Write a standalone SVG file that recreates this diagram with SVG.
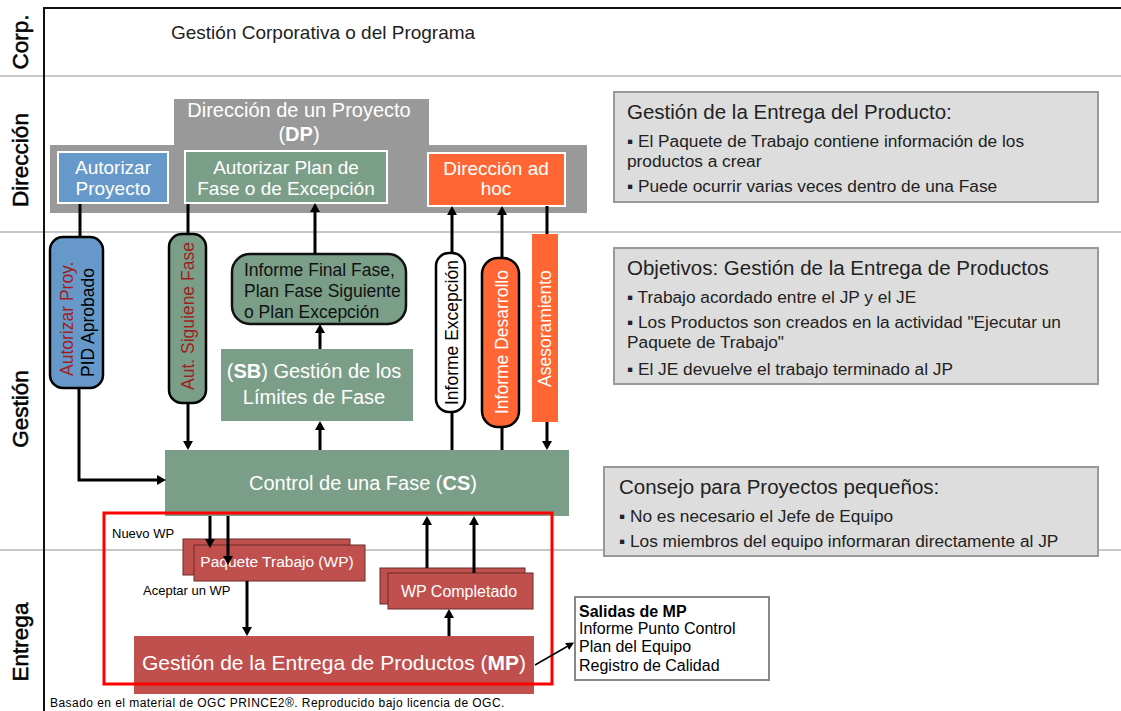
<svg xmlns="http://www.w3.org/2000/svg" width="1121" height="711" viewBox="0 0 1121 711">
<style>
text{font-family:"Liberation Sans",Arial,"DejaVu Sans",sans-serif;}
.lane{font-size:22.5px;fill:#000;stroke:#000;stroke-width:0.5;text-anchor:middle;}
.div{stroke:#b4b4b4;stroke-width:1.5;fill:none;}
.dirbox{stroke:#fff;stroke-width:2;}
.wt{fill:#fff;text-anchor:middle;}
.green{fill:#7b9e89;}
.blue{fill:#6699c9;}
.orange{fill:#ff6633;}
.red{fill:#c0504d;}
.pill{stroke:#000;stroke-width:2.5;}
.vt{font-size:17.5px;}
.conn{stroke:#000;stroke-width:3;fill:none;}
.panel{fill:#dddddd;stroke:#999;stroke-width:2;}
.ptitle{font-size:20.5px;fill:#222;}
.pbody{font-size:17.3px;fill:#222;}
</style>
<defs>
<marker id="ah" viewBox="0 0 9 10" refX="1" refY="5" markerWidth="9" markerHeight="10" markerUnits="userSpaceOnUse" orient="auto">
<path d="M0,0 L9,5 L0,10 z" fill="#000"/>
</marker>
<marker id="ahs" viewBox="0 0 8 8" refX="1" refY="4" markerWidth="8" markerHeight="8" markerUnits="userSpaceOnUse" orient="auto">
<path d="M0,0 L8,4 L0,8 z" fill="#000"/>
</marker>
</defs>
<rect width="1121" height="711" fill="#fff"/>

<g id="lanes">
<line class="div" x1="0" y1="76" x2="1121" y2="76"/>
<line class="div" x1="0" y1="232" x2="1121" y2="232"/>
<line class="div" x1="0" y1="550" x2="1121" y2="550"/>
<path d="M1121,8 H44 V711" stroke="#111" stroke-width="2" fill="none"/>
<text class="lane" transform="translate(28,42) rotate(-90)">Corp.</text>
<text class="lane" transform="translate(28,160) rotate(-90)">Dirección</text>
<text class="lane" transform="translate(28,409) rotate(-90)">Gestión</text>
<text class="lane" transform="translate(28,642) rotate(-90)">Entrega</text>
<text x="171" y="39" font-size="19" fill="#222">Gestión Corporativa o del Programa</text>
</g>

<g id="dp">
<path d="M50,145 H174 V99 H429 V145 H587 V213 H50 Z" fill="#999"/>
<text class="wt" x="299" y="117" font-size="20">Dirección de un Proyecto</text>
<text class="wt" x="299" y="141" font-size="20">(<tspan font-weight="bold">DP</tspan>)</text>
</g>

<g id="autorizar-proyecto">
<rect class="blue dirbox" x="58" y="152" width="110" height="51"/>
<text class="wt" x="113" y="174" font-size="19">Autorizar</text>
<text class="wt" x="113" y="195" font-size="19">Proyecto</text>
</g>

<g id="autorizar-plan">
<rect class="green dirbox" x="185" y="151" width="202" height="52"/>
<text class="wt" x="286" y="174" font-size="19">Autorizar Plan de</text>
<text class="wt" x="286" y="195" font-size="19">Fase o de Excepción</text>
</g>

<g id="direccion-adhoc">
<rect class="orange dirbox" x="428" y="153" width="137" height="53"/>
<text class="wt" x="496" y="175" font-size="19">Dirección ad</text>
<text class="wt" x="496" y="195" font-size="19">hoc</text>
</g>

<g id="pill-autorizar-proy">
<rect class="blue pill" x="50" y="237" width="53" height="151" rx="13"/>
<text class="vt" transform="translate(73,376) rotate(-90)" fill="#a01e1e">Autorizar Proy.</text>
<text class="vt" transform="translate(94,377) rotate(-90)" fill="#000" font-size="16.5">PID Aprobado</text>
</g>

<g id="pill-aut-siguiente">
<rect class="green pill" x="169" y="234" width="37" height="169" rx="13"/>
<text class="vt" transform="translate(194,390) rotate(-90)" fill="#a01e1e">Aut. Siguiene Fase</text>
</g>

<g id="informe-final">
<rect class="green" x="232" y="254" width="174" height="70" rx="18" stroke="#111" stroke-width="2.5"/>
<text x="244" y="276" font-size="17.5" fill="#111">Informe Final Fase,</text>
<text x="244" y="297" font-size="17.5" fill="#111">Plan Fase Siguiente</text>
<text x="244" y="318" font-size="17.5" fill="#111">o Plan Excepción</text>
</g>

<g id="sb">
<rect class="green" x="221" y="349" width="192" height="72"/>
<text class="wt" x="314" y="378" font-size="20">(<tspan font-weight="bold">SB</tspan>) Gestión de los</text>
<text class="wt" x="314" y="404" font-size="20">Límites de Fase</text>
</g>

<g id="pill-informe-excepcion">
<rect class="pill" fill="#fff" x="436" y="253" width="29" height="159" rx="13"/>
<text class="vt" transform="translate(458,405) rotate(-90)" fill="#000">Informe Excepción</text>
</g>

<g id="pill-informe-desarrollo">
<rect class="orange pill" x="482" y="258" width="37" height="169" rx="16"/>
<text class="vt" transform="translate(508,414) rotate(-90)" fill="#fff">Informe Desarrollo</text>
</g>

<g id="asesoramiento">
<rect class="orange" x="532" y="234" width="26" height="188"/>
<text class="vt" transform="translate(551,387) rotate(-90)" fill="#fff">Asesoramiento</text>
</g>

<g id="cs">
<rect class="green" x="165" y="450" width="404" height="66"/>
<text class="wt" x="363" y="490" font-size="20">Control de una Fase (<tspan font-weight="bold">CS</tspan>)</text>
</g>

<g id="paquete-trabajo">
<rect class="red" x="183" y="539" width="167" height="36" stroke="#6a2a28" stroke-width="1"/>
<rect class="red" x="194" y="545" width="171" height="36" stroke="#6a2a28" stroke-width="1"/>
<text class="wt" x="277" y="567" font-size="15.5">Paquete Trabajo (WP)</text>
</g>

<g id="wp-completado">
<rect class="red" x="380" y="568" width="145" height="36" stroke="#6a2a28" stroke-width="1"/>
<rect class="red" x="388" y="573" width="145" height="36" stroke="#6a2a28" stroke-width="1"/>
<text class="wt" x="459" y="597" font-size="16">WP Completado</text>
</g>

<g id="mp">
<rect class="red" x="134" y="636" width="400" height="58"/>
<text class="wt" x="334" y="670" font-size="21">Gestión de la Entrega de Productos (<tspan font-weight="bold">MP</tspan>)</text>
</g>

<g id="salidas-mp">
<rect x="575" y="597" width="194" height="83" fill="#fff" stroke="#888" stroke-width="2"/>
<text x="579" y="617" font-size="16" font-weight="bold" fill="#000">Salidas de MP</text>
<text x="579" y="634" font-size="16" fill="#000">Informe Punto Control</text>
<text x="579" y="652" font-size="16" fill="#000">Plan del Equipo</text>
<text x="579" y="671" font-size="16" fill="#000">Registro de Calidad</text>
</g>

<g id="panel-gestion-entrega">
<rect class="panel" x="614" y="92" width="484" height="110"/>
<text class="ptitle" x="627" y="119">Gestión de la Entrega del Producto:</text>
<text class="pbody" x="627" y="147">▪ El Paquete de Trabajo contiene información de los</text>
<text class="pbody" x="627" y="167">productos a crear</text>
<text class="pbody" x="627" y="192">▪ Puede ocurrir varias veces dentro de una Fase</text>
</g>

<g id="panel-objetivos">
<rect class="panel" x="614" y="248" width="484" height="136"/>
<text class="ptitle" x="627" y="275">Objetivos: Gestión de la Entrega de Productos</text>
<text class="pbody" x="627" y="303">▪ Trabajo acordado entre el JP y el JE</text>
<text class="pbody" x="627" y="328">▪ Los Productos son creados en la actividad "Ejecutar un</text>
<text class="pbody" x="627" y="348">Paquete de Trabajo"</text>
<text class="pbody" x="627" y="375">▪ El JE devuelve el trabajo terminado al JP</text>
</g>

<g id="panel-consejo">
<rect class="panel" x="604" y="467" width="494" height="89"/>
<text class="ptitle" x="619" y="494">Consejo para Proyectos pequeños:</text>
<text class="pbody" x="619" y="522">▪ No es necesario el Jefe de Equipo</text>
<text class="pbody" x="619" y="547">▪ Los miembros del equipo informaran directamente al JP</text>
</g>

<g id="entrega-frame">
<rect x="104" y="513" width="448" height="171" fill="none" stroke="#ff0000" stroke-width="3"/>
<text x="112" y="538" font-size="13" fill="#000">Nuevo WP</text>
<text x="143" y="595" font-size="13" fill="#000">Aceptar un WP</text>
</g>

<g id="connectors">
<path class="conn" d="M80,204 V237"/>
<path class="conn" d="M79,388 V480 H158" marker-end="url(#ah)"/>
<path class="conn" d="M188,204 V234"/>
<path class="conn" d="M188,403 V442" marker-end="url(#ah)"/>
<path class="conn" d="M315,254 V211" marker-end="url(#ah)"/>
<path class="conn" d="M320,349 V332" marker-end="url(#ah)"/>
<path class="conn" d="M320,450 V429" marker-end="url(#ah)"/>
<path class="conn" d="M452,253 V214" marker-end="url(#ah)"/>
<path class="conn" d="M452,450 V412"/>
<path class="conn" d="M502,258 V214" marker-end="url(#ah)"/>
<path class="conn" d="M502,450 V427"/>
<path class="conn" d="M547,206 V234"/>
<path class="conn" d="M547,422 V442" marker-end="url(#ah)"/>
<path class="conn" d="M210,516 V540" marker-end="url(#ah)"/>
<path class="conn" d="M228,516 V557" marker-end="url(#ah)"/>
<path class="conn" d="M247,581 V628" marker-end="url(#ah)"/>
<path class="conn" d="M449,636 V617" marker-end="url(#ah)"/>
<path class="conn" d="M427,568 V524" marker-end="url(#ah)"/>
<path class="conn" d="M474,573 V524" marker-end="url(#ah)"/>
<path d="M535,665 L568,646" stroke="#000" stroke-width="1.5" fill="none" marker-end="url(#ahs)"/>
</g>

<text x="50" y="707" font-size="12" letter-spacing="0.45" fill="#000">Basado en el material de OGC PRINCE2®. Reproducido bajo licencia de OGC.</text>
</svg>
